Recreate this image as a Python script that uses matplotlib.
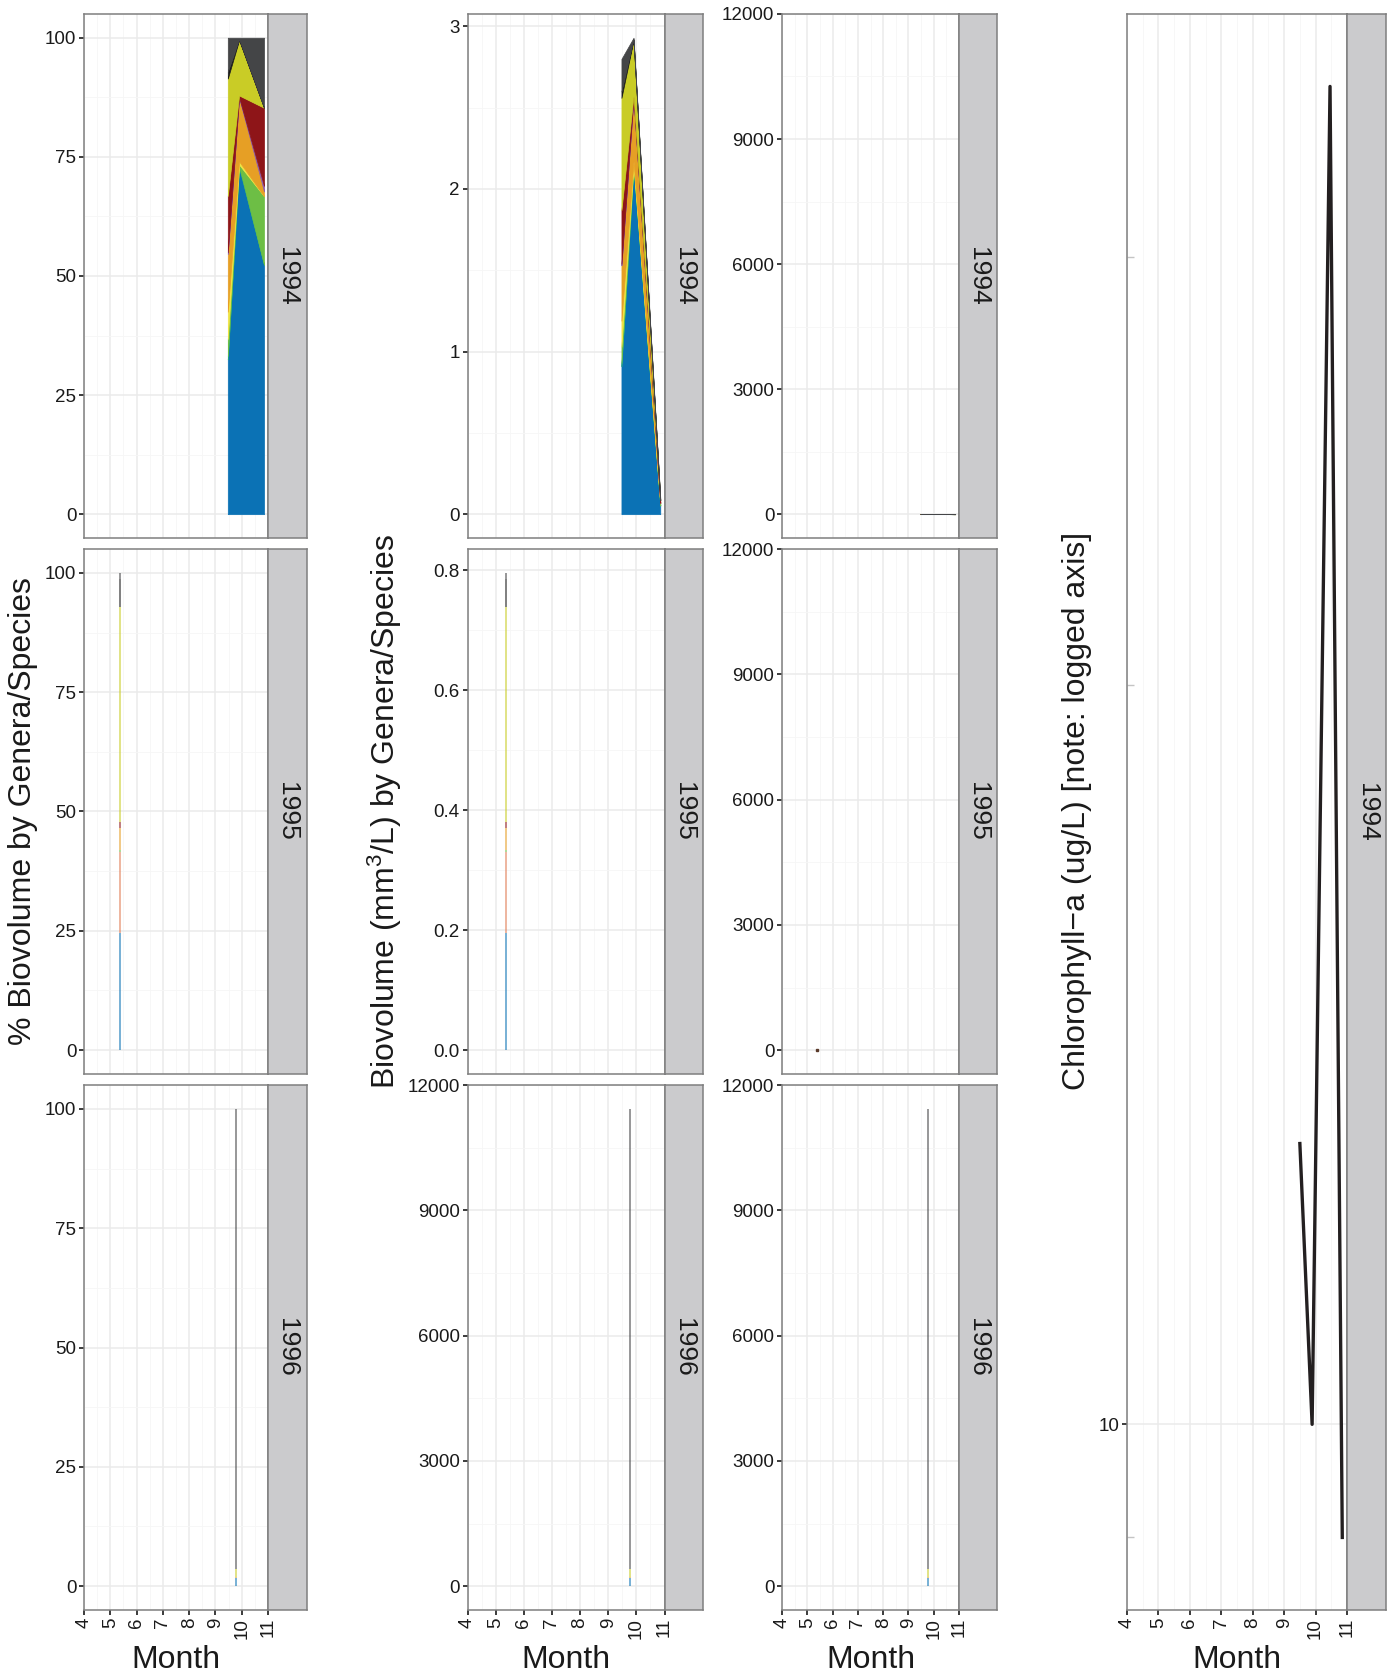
import numpy as np
import matplotlib
matplotlib.use("Agg")
import matplotlib.pyplot as plt
from matplotlib.ticker import MultipleLocator, FixedLocator, NullFormatter, FixedFormatter

plt.rcParams['font.family'] = ['Liberation Sans', 'DejaVu Sans']
plt.rcParams['mathtext.fontset'] = 'custom'
plt.rcParams['mathtext.rm'] = 'Liberation Sans'
plt.rcParams['mathtext.default'] = 'regular'

# --- data ---
taxa = ["Taxon 1", "Taxon 2", "Taxon 3", "Taxon 4", "Taxon 5", "Taxon 6",
        "Taxon 7", "Taxon 8", "Taxon 9", "Taxon 10", "Taxon 11"]
taxa_colors = ["#0B72B5", "#E07B54", "#1FA187", "#6DBE45", "#F0E442", "#E69F25",
               "#8E5BA6", "#8E1518", "#C9CC26", "#1A1A1A", "#444547"]

years = ["1994", "1995", "1996"]
months_1994 = [9.47, 9.9, 10.85]
months_1995 = [5.37]
months_1996 = [9.78]

# biovolume (mm3/L), one row per taxon
biovol_1994 = [
    [0.91, 2.13, 0.053],
    [0.0, 0.0, 0.0],
    [0.02, 0.01, 0.0],
    [0.10, 0.01, 0.0146],
    [0.16, 0.02, 0.0],
    [0.34, 0.39, 0.001],
    [0.01, 0.005, 0.0012],
    [0.33, 0.01, 0.0166],
    [0.69, 0.34, 0.0],
    [0.04, 0.005, 0.0],
    [0.20, 0.01, 0.0149],
]
biovol_1995 = [[0.195], [0.135], [0.0], [0.003], [0.0], [0.037],
               [0.0], [0.011], [0.358], [0.046], [0.011]]
biovol_1996 = [[200.0], [0.0], [0.0], [0.0], [0.0], [20.0],
               [0.0], [0.0], [180.0], [0.0], [11030.0]]

chl_months = [9.5, 9.89, 10.46, 10.85]
chl_values = [17.4, 10.0, 140.0, 8.0]
chl_stub_values = [8.0, 43.0, 100.0]

month_ticks = [4, 5, 6, 7, 8, 9, 10, 11]

months_by_year = [months_1994, months_1995, months_1996]
biovol_by_year = [biovol_1994, biovol_1995, biovol_1996]

# --- layout (pixels) ---
W, H = 1394, 1677
fig = plt.figure(figsize=(W / 100, H / 100), dpi=100)

cols = [(84, 268, 307), (467.5, 664.5, 703), (782, 959, 997)]
rows = [(13.9, 538), (549, 1074), (1085, 1610)]
col4 = (1127, 1347, 1386)

border = "#7F7F7F"
strip_fill = "#CBCBCD"
tick_col = "#1A1A1A"
tick_fs = 13.5


def make_axes(x0, x1, x2, y0, y1, label):
    ax = fig.add_axes([x0 / W, 1 - y1 / H, (x1 - x0) / W, (y1 - y0) / H])
    st = fig.add_axes([x1 / W, 1 - y1 / H, (x2 - x1) / W, (y1 - y0) / H])
    st.set_facecolor(strip_fill)
    st.set_xticks([])
    st.set_yticks([])
    for s in st.spines.values():
        s.set_color(border)
        s.set_linewidth(1.1)
    st.text(0.5, 0.5, label, rotation=-90, ha="center", va="center",
            fontsize=19, color=tick_col, transform=st.transAxes)
    for s in ax.spines.values():
        s.set_color(border)
        s.set_linewidth(1.1)
    ax.set_xlim(4, 11)
    ax.xaxis.set_major_locator(FixedLocator(month_ticks))
    ax.xaxis.set_minor_locator(MultipleLocator(0.5))
    ax.tick_params(which="major", length=3.5, width=1.2, color=tick_col,
                   labelsize=tick_fs, labelcolor=tick_col, pad=2)
    ax.tick_params(which="minor", length=0)
    ax.set_axisbelow(True)
    return ax


def style_grid(ax, log=False):
    ax.grid(which="major", color="#EBEBEB", lw=1.1)
    if log:
        ax.grid(which="minor", axis="x", color="#F6F6F6", lw=0.6)
    else:
        ax.grid(which="minor", color="#F6F6F6", lw=0.6)


def draw_stack(ax, months, vals, percent=False):
    vals = np.array(vals, dtype=float)
    if percent:
        vals = vals / vals.sum(axis=0) * 100
    tops = vals.cumsum(axis=0)
    bottoms = tops - vals
    for i, c in enumerate(taxa_colors):
        if not vals[i].any():
            continue
        if len(months) > 1:
            ax.fill_between(months, bottoms[i], tops[i], facecolor=c,
                            edgecolor=c, lw=0.5)
        else:
            ax.vlines(months, bottoms[i], tops[i], color=c, lw=1.3, alpha=0.6)


def set_y(ax, ymax, step, fmt):
    pad = 0.05 * ymax
    ax.set_ylim(-pad, ymax + pad)
    ticks = np.arange(0, ymax + pad + step * 0.001, step)
    ax.yaxis.set_major_locator(FixedLocator(ticks))
    ax.yaxis.set_major_formatter(FixedFormatter([fmt.format(t) for t in ticks]))
    ax.yaxis.set_minor_locator(MultipleLocator(step / 2))


all_max = max(np.array(v).sum(axis=0).max() for v in biovol_by_year)
col2_steps = [(1, "{:.0f}"), (0.2, "{:.1f}"), (3000, "{:.0f}")]

for r, (y0, y1) in enumerate(rows):
    months = months_by_year[r]
    vals = biovol_by_year[r]
    total_max = np.array(vals).sum(axis=0).max()

    # column 1: percent biovolume
    ax1 = make_axes(*cols[0], y0, y1, years[r])
    draw_stack(ax1, months, vals, percent=True)
    set_y(ax1, 100, 25, "{:.0f}")

    # column 2: biovolume, free scale
    ax2 = make_axes(*cols[1], y0, y1, years[r])
    draw_stack(ax2, months, vals)
    step, fmt = col2_steps[r]
    set_y(ax2, total_max, step, fmt)

    # column 3: biovolume, fixed scale
    ax3 = make_axes(*cols[2], y0, y1, years[r])
    draw_stack(ax3, months, vals)
    if r == 1:
        ax3.plot(months, [0], ls="none", marker="s", ms=1.5, color="#5A3A2A")
    set_y(ax3, all_max, 3000, "{:.0f}")

    for ax in (ax1, ax2, ax3):
        style_grid(ax)
        if r < 2:
            ax.tick_params(axis="x", which="major", length=0, labelbottom=False)
        else:
            ax.tick_params(axis="x", labelrotation=90)

# column 4: chlorophyll
ax4 = make_axes(*col4, rows[0][0], rows[2][1], "1994")
ax4.plot(chl_months, chl_values, color="#231F20", lw=2.4)
ax4.set_yscale("log")
lo, hi = np.log10(min(chl_values)), np.log10(max(chl_values))
pad = 0.05 * (hi - lo)
ax4.set_ylim(10 ** (lo - pad), 10 ** (hi + pad))
ax4.yaxis.set_major_locator(FixedLocator([10]))
ax4.yaxis.set_major_formatter(FixedFormatter(["10"]))
ax4.yaxis.set_minor_locator(FixedLocator(chl_stub_values))
ax4.yaxis.set_minor_formatter(NullFormatter())
ax4.tick_params(axis="y", which="minor", direction="in", length=5,
                width=1, color="#C4C4C4")
ax4.tick_params(axis="x", labelrotation=90)
style_grid(ax4, log=True)

# axis titles
fs = 23
fig.text(23.5 / W, 1 - 811 / H, "% Biovolume by Genera/Species",
         rotation=90, ha="center", va="center", fontsize=fs, color=tick_col)
fig.text(385 / W, 1 - 811 / H, "Biovolume (mm$^3$/L) by Genera/Species",
         rotation=90, ha="center", va="center", fontsize=fs, color=tick_col)
fig.text(1077 / W, 1 - 811 / H, "Chlorophyll\u2212a (ug/L) [note: logged axis]",
         rotation=90, ha="center", va="center", fontsize=fs, color=tick_col)
for x0, x1, _ in cols + [col4]:
    fig.text((x0 + x1) / 2 / W, 1 - 1660 / H, "Month", ha="center",
             va="center", fontsize=fs, color=tick_col)

fig.savefig("out.png", dpi=100)
